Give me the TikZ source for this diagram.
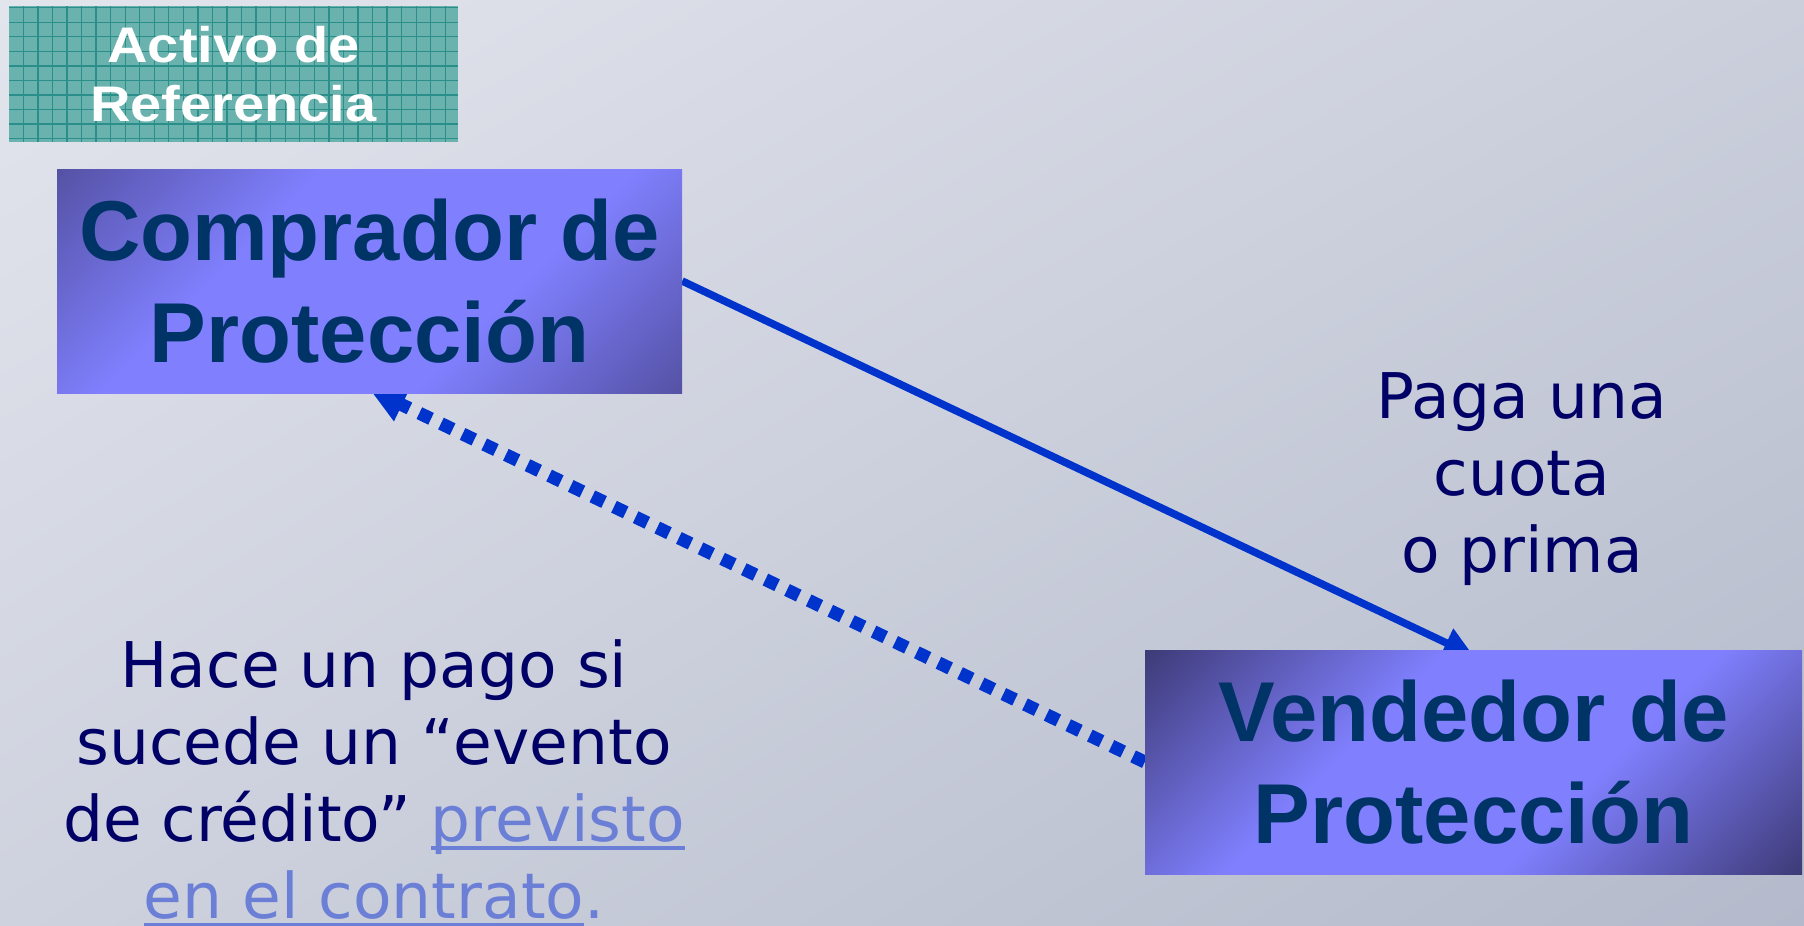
\documentclass[tikz,border=0pt]{standalone}
\usepackage{fontspec}
\usetikzlibrary{arrows.meta,shadings}
\newfontfamily\arialfont{Liberation Sans}
\newfontfamily\activofont[FakeStretch=1.12]{Liberation Sans}
\newfontfamily\notefont{DejaVu Sans}
\definecolor{bgUL}{HTML}{E3E5ED}
\definecolor{bgUR}{HTML}{CBCFDC}
\definecolor{bgLL}{HTML}{CED2DE}
\definecolor{bgLR}{HTML}{B4BACB}
\definecolor{tealfill}{HTML}{6AB2AE}
\definecolor{tealline}{HTML}{2A8E8A}
\definecolor{boxlight}{HTML}{8080FF}
\definecolor{compdark}{HTML}{5552A5}
\definecolor{venddark}{HTML}{3E3B78}
\definecolor{boxtext}{HTML}{003366}
\definecolor{navytext}{HTML}{000066}
\definecolor{linkblue}{HTML}{6B7FD6}
\definecolor{arrowblue}{HTML}{0033CC}
\pgfdeclarehorizontalshading{compshade}{100bp}{color(0bp)=(compdark); color(14.6bp)=(compdark); color(37bp)=(boxlight); color(63bp)=(boxlight); color(85.4bp)=(compdark); color(100bp)=(compdark)}
\pgfdeclarehorizontalshading{vendshade}{100bp}{color(0bp)=(venddark); color(14.6bp)=(venddark); color(39bp)=(boxlight); color(61bp)=(boxlight); color(85.4bp)=(venddark); color(100bp)=(venddark)}
\pgfdeclarelayer{bg}
\pgfdeclarelayer{arr}
\pgfsetlayers{bg,arr,main}
\newcommand\linkul[1]{{\color{linkblue}\setbox0\hbox{#1}\rlap{\rule[-8.5pt]{\wd0}{3.5pt}}\box0}}
\tikzset{
  gridline/.style={draw=tealline, line width=1.3pt},
  activobox/.style={fill=tealfill, minimum width=449pt, minimum height=136pt, inner sep=0pt,
    text=white, align=center, font=\activofont\bfseries\fontsize{50}{59}\selectfont,
    path picture={
      \foreach \i in {0,...,29}{\draw[gridline] ([xshift=14.3pt+\i*14.55pt]path picture bounding box.north west) -- ([xshift=14.3pt+\i*14.55pt]path picture bounding box.south west);}
      \foreach \j in {0,...,9}{\draw[gridline] ([yshift=-1.7pt-\j*14.55pt]path picture bounding box.north west) -- ([yshift=-1.7pt-\j*14.55pt]path picture bounding box.north east);}
    }},
  partybox/.style={minimum height=224pt, inner sep=0pt, align=center, text=boxtext,
    font=\arialfont\bfseries\fontsize{85}{102}\selectfont, shading angle=-45},
  notetext/.style={align=center, inner sep=0pt, text=navytext, font=\notefont\fontsize{63}{77}\selectfont},
  solidarrow/.style={draw=arrowblue, line width=7.5pt, -{Triangle[length=30pt,width=30pt]}},
  dotarrow/.style={draw=arrowblue, line width=13pt, dash pattern=on 13pt off 11pt, -{Triangle[length=36pt,width=34pt]}}
}
\begin{document}
\begin{tikzpicture}[x=1pt,y=1pt]
\useasboundingbox (0,0) rectangle (1804,-926);
\begin{pgfonlayer}{bg}
\shade[upper left=bgUL, upper right=bgUR, lower left=bgLL, lower right=bgLR] (0,0) rectangle (1804,-926);
\end{pgfonlayer}
\node[activobox] (act) at (233.5,-74) {Activo de\\Referencia};
\node[partybox, shading=compshade, minimum width=625pt] (comp) at (369.5,-281) {Comprador de\\Protección};
\node[partybox, shading=vendshade, minimum width=657pt] (vend) at (1473.5,-762) {Vendedor de\\Protección};
\node[notetext] (paga) at (1522,-479) {Paga una\\cuota\\o prima};
\node[notetext] (hace) at (374,-783) {Hace un pago si\\sucede un “evento\\de crédito” \linkul{previsto}\\\linkul{en el contrato}{\color{linkblue}.}};
\begin{pgfonlayer}{arr}
\draw[solidarrow] (comp.east) -- ([yshift=-6pt]vend.north);
\draw[dotarrow] (vend.west) -- ([yshift=4pt]comp.south);
\end{pgfonlayer}
\end{tikzpicture}
\end{document}
